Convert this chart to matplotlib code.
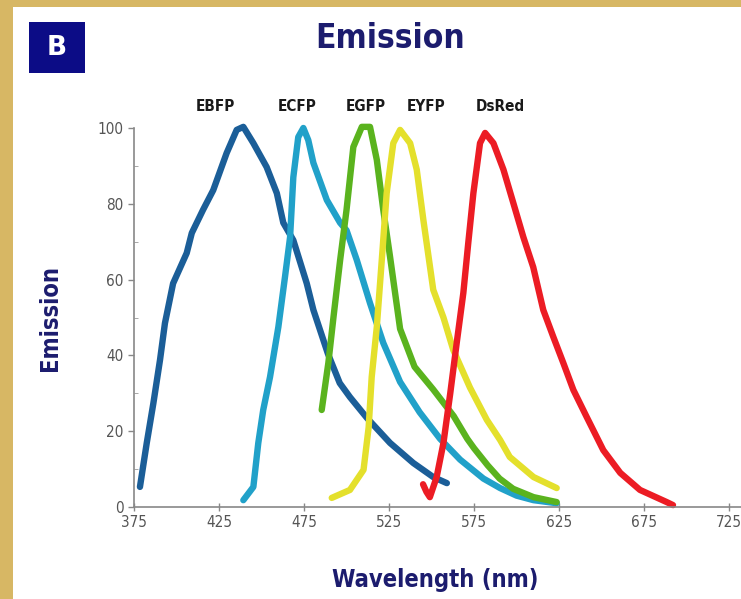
import matplotlib
matplotlib.use("Agg")
import matplotlib.pyplot as plt
from matplotlib.patches import Rectangle
from matplotlib.ticker import MultipleLocator

plt.rcParams['font.family'] = ['DejaVu Sans']
plt.rcParams['font.stretch'] = 'condensed'

# Emission spectra
ebfp_wl = [378.5, 382.5, 386.4, 390.3, 393.2, 398, 406, 409, 415.6, 421.6, 429.5, 435.4,
           439.3, 445.2, 453, 459, 462.8, 468.7, 476.6, 480.5, 489, 496, 502, 512,
           525.6, 539.3, 551, 559]
ebfp_em = [5.3, 16.9, 27.4, 38.8, 48.5, 59, 67, 72.3, 78.4, 83.6, 93.4, 99.5,
           100.3, 96, 89.7, 82.8, 75, 70.4, 59, 52, 40.5, 32.7, 29, 23.5,
           16.9, 11.6, 7.9, 6.3]

ecfp_wl = [439.3, 445.2, 448.1, 451, 455, 459.9, 463.8, 466.8, 468.7, 471.6, 474.6, 477.5,
           480.5, 488.4, 496.2, 500, 506, 513.8, 521.6, 531.5, 543, 555, 566.8, 580.5,
           590.3, 600, 610, 623.6]
ecfp_em = [1.8, 5.3, 16.9, 25.6, 34.3, 47.5, 60.7, 71.2, 87, 97.6, 100, 96.8,
           90.8, 81, 75, 73, 65.2, 53.8, 43.3, 33, 25, 18, 12.5, 7.5,
           5, 3, 1.8, 1.0]

egfp_wl = [485.4, 489.3, 492.3, 496.2, 500, 504, 509, 513.8, 517.8, 521.6, 525.6, 531.5,
           540, 551, 557, 563, 571, 575, 583, 590, 598, 610, 623.6]
egfp_em = [25.6, 38, 50, 65, 78.4, 95, 100.3, 100.3, 91.6, 78.4, 66, 47,
           37, 31, 27.5, 24, 18, 15.5, 11, 7.5, 4.8, 2.6, 1.3]

eyfp_wl = [491.3, 502, 510, 513, 514.8, 517.8, 520.7, 523.6, 527.5, 531.5, 537.4, 541.3,
           545.2, 551, 557, 562.8, 572.6, 582.5, 590.3, 596, 610, 623.6]
eyfp_em = [2.4, 4.5, 9.8, 21, 34.3, 47.5, 65, 82.8, 96, 99.5, 96, 89,
           75.7, 57.3, 50, 41.4, 31.5, 23, 17.7, 13.2, 7.9, 5]

dsred_wl = [545, 547, 549, 553, 557, 561, 564.8, 568.7, 571.6, 574.6, 578.5, 581.5,
            586.4, 592.3, 598.1, 604, 609.8, 615.7, 621.6, 627.5, 633.4, 641.3, 651, 661,
            672.6, 688.3, 692]
dsred_em = [6, 4, 2.6, 7.9, 16.9, 30, 43.3, 56.5, 69.7, 82.8, 96, 98.7,
            96, 89, 80.2, 71.2, 63.3, 52, 44.9, 38, 30.9, 23.7, 15, 9,
            4.5, 1.3, 0.5]

names = ['EBFP', 'ECFP', 'EGFP', 'EYFP', 'DsRed']
label_x = [422.6, 471.0, 511.5, 547.0, 590.5]
colors = ['#1b5e98', '#21a1c9', '#5ab31e', '#e4e02c', '#ec1c24']
series = [(ebfp_wl, ebfp_em), (ecfp_wl, ecfp_em), (egfp_wl, egfp_em),
          (eyfp_wl, eyfp_em), (dsred_wl, dsred_em)]

xticks = [375, 425, 475, 525, 575, 625, 675, 725]
yticks = [0, 20, 40, 60, 80, 100]

navy = '#1c1c6e'

fig = plt.figure(figsize=(7.41, 5.99), dpi=100)
fig.patch.set_facecolor('#d7b764')
# white panel inside the tan frame
fig.patches.append(Rectangle((13 / 741, 0), 1, 1 - 7 / 599, transform=fig.transFigure,
                             facecolor='white', edgecolor='none', zorder=-10))
# "B" badge
fig.patches.append(Rectangle((29 / 741, 1 - 73 / 599), 56 / 741, 51 / 599,
                             transform=fig.transFigure, facecolor='#0c0c86',
                             edgecolor='none', zorder=-5))
fig.text(57 / 741, 1 - 48 / 599, 'B', color='white', fontsize=19, fontweight='bold',
         ha='center', va='center', fontstretch='normal')

ax = fig.add_axes([134 / 741, 1 - 507 / 599, 1 - 134 / 741, (507 - 128) / 599])
ax.set_facecolor('none')
ax.set_zorder(2)

for (wl, em), c in zip(series, colors):
    ax.plot(wl, em, color=c, lw=4.6, solid_capstyle='round', solid_joinstyle='round',
            clip_on=False)

for n, x in zip(names, label_x):
    ax.text(x, 105.8, n, ha='center', va='center', fontsize=11, fontweight='bold',
            color='#1a1a1a')

ax.set_xlim(375, 732)
ax.set_ylim(0, 100)
ax.set_xticks(xticks)
ax.set_yticks(yticks)
ax.yaxis.set_minor_locator(MultipleLocator(10))
ax.tick_params(axis='both', colors='#888888', labelcolor='#555555', labelsize=11,
               length=4, width=1)
ax.tick_params(axis='x', direction='inout', length=6, pad=3)
ax.tick_params(axis='y', which='minor', length=3, direction='in', colors='#999999')
for s in ['top', 'right']:
    ax.spines[s].set_visible(False)
for s in ['left', 'bottom']:
    ax.spines[s].set_color('#888888')
    ax.spines[s].set_linewidth(1.2)

fig.text(390 / 741, 1 - 38 / 599, 'Emission', color=navy, fontsize=24, fontweight='bold',
         ha='center', va='center')
fig.text(435 / 741, 1 - 580 / 599, 'Wavelength (nm)', color=navy, fontsize=17,
         fontweight='bold', ha='center', va='center')
fig.text(50 / 741, 1 - 318 / 599, 'Emission', color=navy, fontsize=17, fontweight='bold',
         ha='center', va='center', rotation=90)

fig.savefig('out.png', dpi=100, facecolor=fig.get_facecolor())
